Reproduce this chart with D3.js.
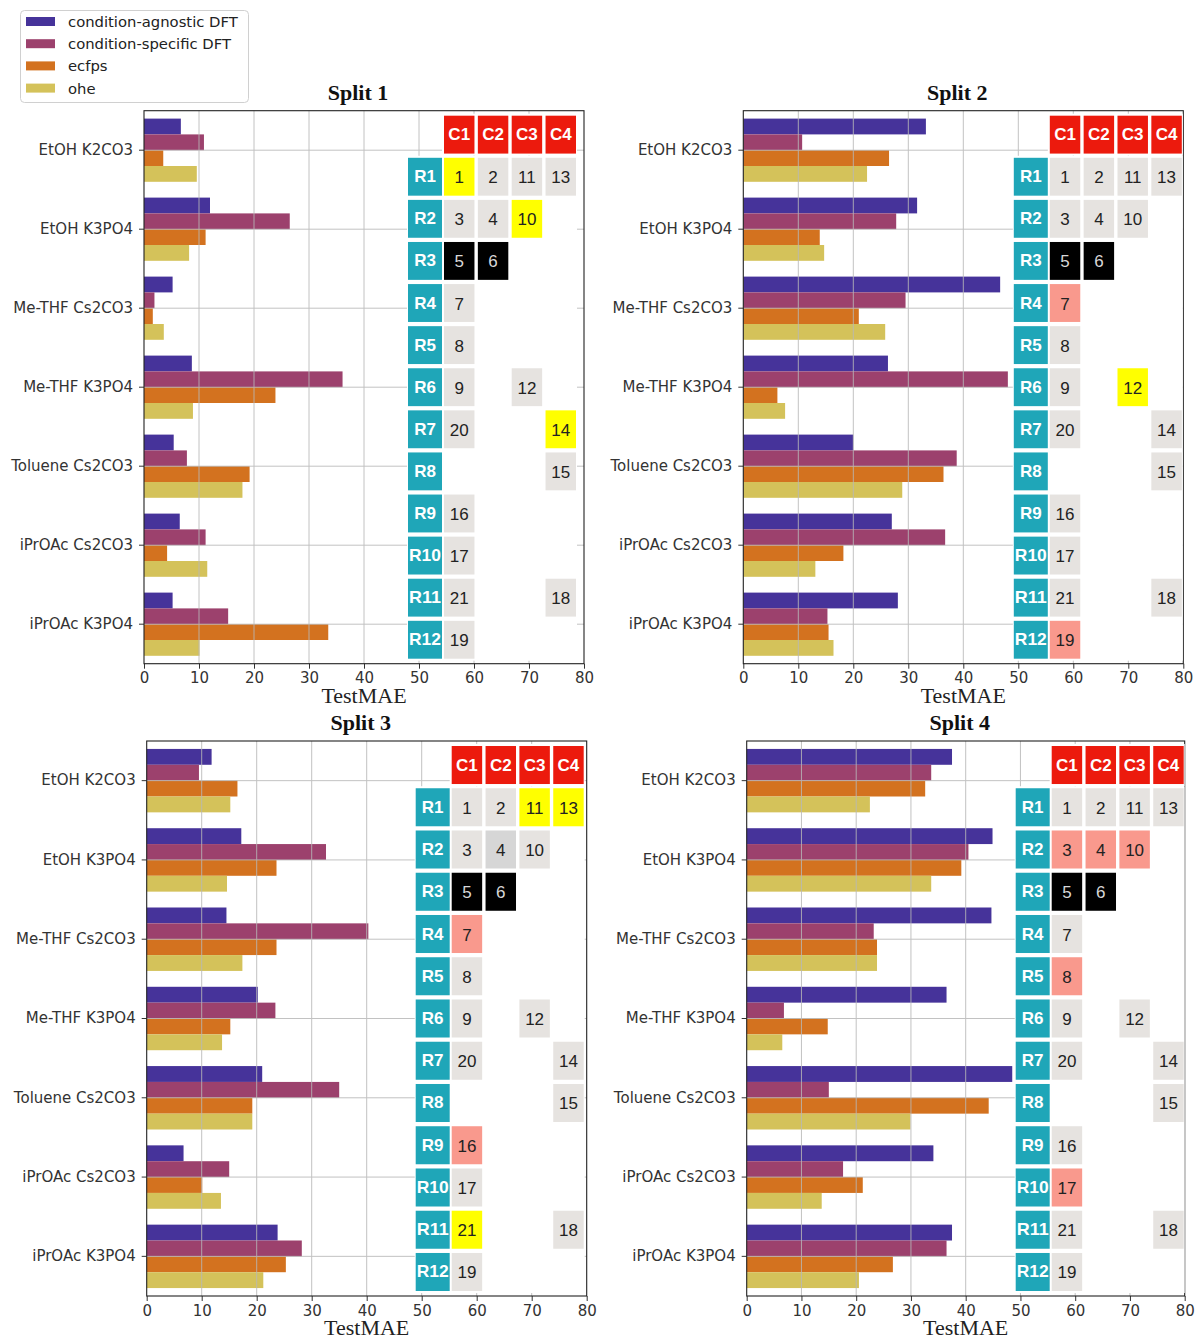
<!DOCTYPE html>
<html>
<head>
<meta charset="utf-8">
<script src="https://cdn.jsdelivr.net/npm/d3@7"></script>
<style>
  body { margin: 0; background: #fff; }
  svg { display: block; }
</style>
</head>
<body>
<svg id="fig" width="1195" height="1341"></svg>
<script>
// ---- categories, series and ticks ----
const categories = ["EtOH K2CO3", "EtOH K3PO4", "Me-THF Cs2CO3", "Me-THF K3PO4",
                    "Toluene Cs2CO3", "iPrOAc Cs2CO3", "iPrOAc K3PO4"];
const seriesNames = ["condition-agnostic DFT", "condition-specific DFT", "ecfps", "ohe"];
const seriesColors = ["#46339a", "#9c416d", "#d3721f", "#d4c25a"];
const xTicks = [0, 10, 20, 30, 40, 50, 60, 70, 80];
const splitTitles = ["Split 1", "Split 2", "Split 3", "Split 4"];

// ---- Test MAE per split (one array per feature set, in category order) ----
const split1Agnostic = [6.7, 12.0, 5.2, 8.7, 5.4, 6.5, 5.2];
const split1Specific = [10.9, 26.5, 1.9, 36.1, 7.8, 11.2, 15.3];
const split1Ecfps    = [3.5, 11.2, 1.6, 23.9, 19.2, 4.2, 33.5];
const split1Ohe      = [9.6, 8.2, 3.6, 8.9, 17.9, 11.5, 10.1];

const split2Agnostic = [33.2, 31.6, 46.7, 26.3, 20.0, 27.0, 28.1];
const split2Specific = [10.7, 27.8, 29.5, 48.1, 38.8, 36.7, 15.3];
const split2Ecfps    = [26.5, 13.9, 21.0, 6.2, 36.4, 18.2, 15.5];
const split2Ohe      = [22.5, 14.7, 25.8, 7.6, 28.9, 13.1, 16.4];

const split3Agnostic = [11.8, 17.2, 14.5, 20.2, 21.0, 6.7, 23.8];
const split3Specific = [9.5, 32.6, 40.3, 23.4, 35.0, 15.0, 28.2];
const split3Ecfps    = [16.5, 23.6, 23.6, 15.2, 19.2, 10.1, 25.3];
const split3Ohe      = [15.2, 14.6, 17.4, 13.7, 19.2, 13.5, 21.2];

const split4Agnostic = [37.5, 44.9, 44.7, 36.5, 48.5, 34.1, 37.5];
const split4Specific = [33.7, 40.5, 23.2, 6.8, 15.0, 17.6, 36.5];
const split4Ecfps    = [32.6, 39.2, 23.8, 14.8, 44.2, 21.2, 26.7];
const split4Ohe      = [22.5, 33.7, 23.8, 6.5, 29.9, 13.7, 20.5];

// ---- reaction grid: rows R1..R12, columns C1..C4, numbered experiments ----
const rowLabels = ["R1","R2","R3","R4","R5","R6","R7","R8","R9","R10","R11","R12"];
const colLabels = ["C1","C2","C3","C4"];
const gridCells = [
  ["R1","C1",1], ["R1","C2",2], ["R1","C3",11], ["R1","C4",13],
  ["R2","C1",3], ["R2","C2",4], ["R2","C3",10],
  ["R3","C1",5], ["R3","C2",6],
  ["R4","C1",7],
  ["R5","C1",8],
  ["R6","C1",9], ["R6","C3",12],
  ["R7","C1",20], ["R7","C4",14],
  ["R8","C4",15],
  ["R9","C1",16],
  ["R10","C1",17],
  ["R11","C1",21], ["R11","C4",18],
  ["R12","C1",19]
];
const excludedCells = [5, 6];
const split1Test = [1, 10, 14];
const split1Val  = [];
const split2Test = [12];
const split2Val  = [7, 19];
const split3Test = [11, 13, 21];
const split3Val  = [7, 16];
const split4Test = [];
const split4Val  = [3, 4, 10, 8, 17];
const split3Shaded = [4];

// ---- panel placement ----
const panels = [
  { left: 144.0, top: 110.7, width: 440, height: 553, tableDx: -5 },
  { left: 743.3, top: 110.7, width: 440, height: 553, tableDx: 1.5 },
  { left: 146.7, top: 741.0, width: 440, height: 555, tableDx: 0 },
  { left: 746.7, top: 741.0, width: 438, height: 555, tableDx: 0 }
];

const splitValues = [
  [split1Agnostic, split1Specific, split1Ecfps, split1Ohe],
  [split2Agnostic, split2Specific, split2Ecfps, split2Ohe],
  [split3Agnostic, split3Specific, split3Ecfps, split3Ohe],
  [split4Agnostic, split4Specific, split4Ecfps, split4Ohe]
];
const splitTest = [split1Test, split2Test, split3Test, split4Test];
const splitVal  = [split1Val, split2Val, split3Val, split4Val];
const splitShaded = [[], [], split3Shaded, []];

const COLORS = {
  grid: "#b8b8b8",
  rowHead: "#1fa6b8",
  colHead: "#ec1a0d",
  cell: "#e6e3e0",
  shaded: "#d6d6d6",
  test: "#ffff00",
  val: "#f9998d",
  excluded: "#000000"
};

const svg = d3.select("#fig");
svg.append("rect").attr("width", 1195).attr("height", 1341).attr("fill", "#fff");

function drawPanel(p, idx) {
  const g = svg.append("g").attr("transform", `translate(${p.left},${p.top})`);
  const values = splitValues[idx];

  const x = d3.scaleLinear().domain([0, 80]).range([0, p.width]);
  const y = d3.scaleBand().domain(categories).range([0, p.height])
    .paddingInner(0.2).paddingOuter(0.1);
  const ySub = d3.scaleBand().domain(d3.range(seriesNames.length)).range([0, y.bandwidth()]);

  // bars
  const groups = g.append("g").selectAll("g").data(categories).join("g")
    .attr("transform", c => `translate(0,${y(c)})`);
  groups.selectAll("rect")
    .data((c, ci) => values.map((arr, si) => ({ si, v: arr[ci] })))
    .join("rect")
    .attr("x", x(0))
    .attr("y", d => ySub(d.si))
    .attr("width", d => x(d.v) - x(0))
    .attr("height", ySub.bandwidth())
    .attr("fill", d => seriesColors[d.si]);

  // grid lines (above the bars)
  const grid = g.append("g").attr("stroke", COLORS.grid).attr("stroke-width", 1).attr("opacity", 0.85);
  grid.selectAll("line.v").data(xTicks.slice(1, -1)).join("line")
    .attr("class", "v")
    .attr("x1", d => x(d)).attr("x2", d => x(d))
    .attr("y1", 0).attr("y2", p.height);
  grid.selectAll("line.h").data(categories).join("line")
    .attr("class", "h")
    .attr("x1", 0).attr("x2", p.width)
    .attr("y1", c => y(c) + y.bandwidth() / 2)
    .attr("y2", c => y(c) + y.bandwidth() / 2);

  // axes
  const xAxis = g.append("g").attr("transform", `translate(0,${p.height})`)
    .call(d3.axisBottom(x).tickValues(xTicks).tickSize(5).tickPadding(4));
  xAxis.select(".domain").remove();
  xAxis.selectAll("text").attr("font-family", "DejaVu Sans").attr("font-size", 15).attr("fill", "#333");
  xAxis.selectAll("line").attr("stroke", "#333");

  const yAxis = g.append("g")
    .call(d3.axisLeft(y).tickSize(5).tickPadding(6));
  yAxis.select(".domain").remove();
  yAxis.selectAll("text").attr("font-family", "DejaVu Sans").attr("font-size", 15).attr("fill", "#333");
  yAxis.selectAll("line").attr("stroke", "#333");

  // frame
  g.append("rect").attr("x", 0).attr("y", 0).attr("width", p.width).attr("height", p.height)
    .attr("fill", "none").attr("stroke", "#222").attr("stroke-width", 1.1);

  // titles
  g.append("text").attr("x", p.width / 2 - 6).attr("y", -11)
    .attr("text-anchor", "middle").attr("font-family", "Liberation Serif")
    .attr("font-weight", "bold").attr("font-size", 22).attr("fill", "#111")
    .text(splitTitles[idx]);
  g.append("text").attr("x", p.width / 2).attr("y", p.height + 39)
    .attr("text-anchor", "middle").attr("font-family", "Liberation Serif")
    .attr("font-size", 22).attr("fill", "#222")
    .text("TestMAE");

  // reaction grid overlay
  const t = g.append("g").attr("transform", `translate(${p.tableDx},0)`);
  const tc = d3.scaleBand().domain(colLabels).range([305, 437]).paddingInner(0.1);
  const tr = d3.scaleBand().domain(["head"].concat(rowLabels)).range([5, p.height - 5]).paddingInner(0.1);
  const rX0 = 269, rX1 = 303;

  // white backing
  t.append("rect").attr("x", rX0 - 1).attr("y", tr("R1") - 2)
    .attr("width", tc("C4") + tc.bandwidth() + 1 - (rX0 - 1))
    .attr("height", tr("R12") + tr.bandwidth() + 2 - (tr("R1") - 2))
    .attr("fill", "#fff");
  t.append("rect").attr("x", tc("C1") - 2).attr("y", tr("head") - 2)
    .attr("width", tc("C4") + tc.bandwidth() + 1 - (tc("C1") - 2))
    .attr("height", tr.bandwidth() + 4)
    .attr("fill", "#fff");

  // column headers
  const ch = t.append("g").selectAll("g").data(colLabels).join("g");
  ch.append("rect").attr("x", c => tc(c)).attr("y", tr("head"))
    .attr("width", tc.bandwidth()).attr("height", tr.bandwidth()).attr("fill", COLORS.colHead);
  ch.append("text").attr("x", c => tc(c) + tc.bandwidth() / 2).attr("y", tr("head") + tr.bandwidth() / 2)
    .attr("text-anchor", "middle").attr("dominant-baseline", "central")
    .attr("font-family", "Liberation Sans").attr("font-weight", "bold").attr("font-size", 17)
    .attr("fill", "#fff").text(c => c);

  // row headers
  const rh = t.append("g").selectAll("g").data(rowLabels).join("g");
  rh.append("rect").attr("x", rX0).attr("y", r => tr(r))
    .attr("width", rX1 - rX0).attr("height", tr.bandwidth()).attr("fill", COLORS.rowHead);
  rh.append("text").attr("x", (rX0 + rX1) / 2).attr("y", r => tr(r) + tr.bandwidth() / 2)
    .attr("text-anchor", "middle").attr("dominant-baseline", "central")
    .attr("font-family", "Liberation Sans").attr("font-weight", "bold").attr("font-size", 17)
    .attr("textLength", r => r.length > 2 ? 32 : null)
    .attr("lengthAdjust", "spacingAndGlyphs")
    .attr("fill", "#fff").text(r => r);

  // numbered cells
  const fillFor = n => excludedCells.includes(n) ? COLORS.excluded
    : splitTest[idx].includes(n) ? COLORS.test
    : splitVal[idx].includes(n) ? COLORS.val
    : splitShaded[idx].includes(n) ? COLORS.shaded
    : COLORS.cell;
  const cells = t.append("g").selectAll("g").data(gridCells).join("g");
  cells.append("rect").attr("x", d => tc(d[1])).attr("y", d => tr(d[0]))
    .attr("width", tc.bandwidth()).attr("height", tr.bandwidth())
    .attr("fill", d => fillFor(d[2]));
  cells.append("text")
    .attr("x", d => tc(d[1]) + tc.bandwidth() / 2)
    .attr("y", d => tr(d[0]) + tr.bandwidth() / 2 + 1)
    .attr("text-anchor", "middle").attr("dominant-baseline", "central")
    .attr("font-family", "Liberation Sans").attr("font-size", 17)
    .attr("fill", d => excludedCells.includes(d[2]) ? "#d8d8d8" : "#222")
    .text(d => d[2]);
}

panels.forEach(drawPanel);

// legend
const leg = svg.append("g");
leg.append("rect").attr("x", 20.5).attr("y", 10.5).attr("width", 228).attr("height", 92)
  .attr("rx", 4).attr("fill", "#fff").attr("stroke", "#d0d0d0");
const li = leg.selectAll("g.item").data(seriesNames).join("g").attr("class", "item")
  .attr("transform", (d, i) => `translate(0,${21.5 + i * 22.2})`);
li.append("rect").attr("x", 26).attr("y", -4.5).attr("width", 29).attr("height", 9)
  .attr("fill", (d, i) => seriesColors[i]);
li.append("text").attr("x", 68).attr("y", 0).attr("dominant-baseline", "central")
  .attr("font-family", "DejaVu Sans").attr("font-size", 14.8).attr("fill", "#222")
  .text(d => d);
</script>
</body>
</html>
